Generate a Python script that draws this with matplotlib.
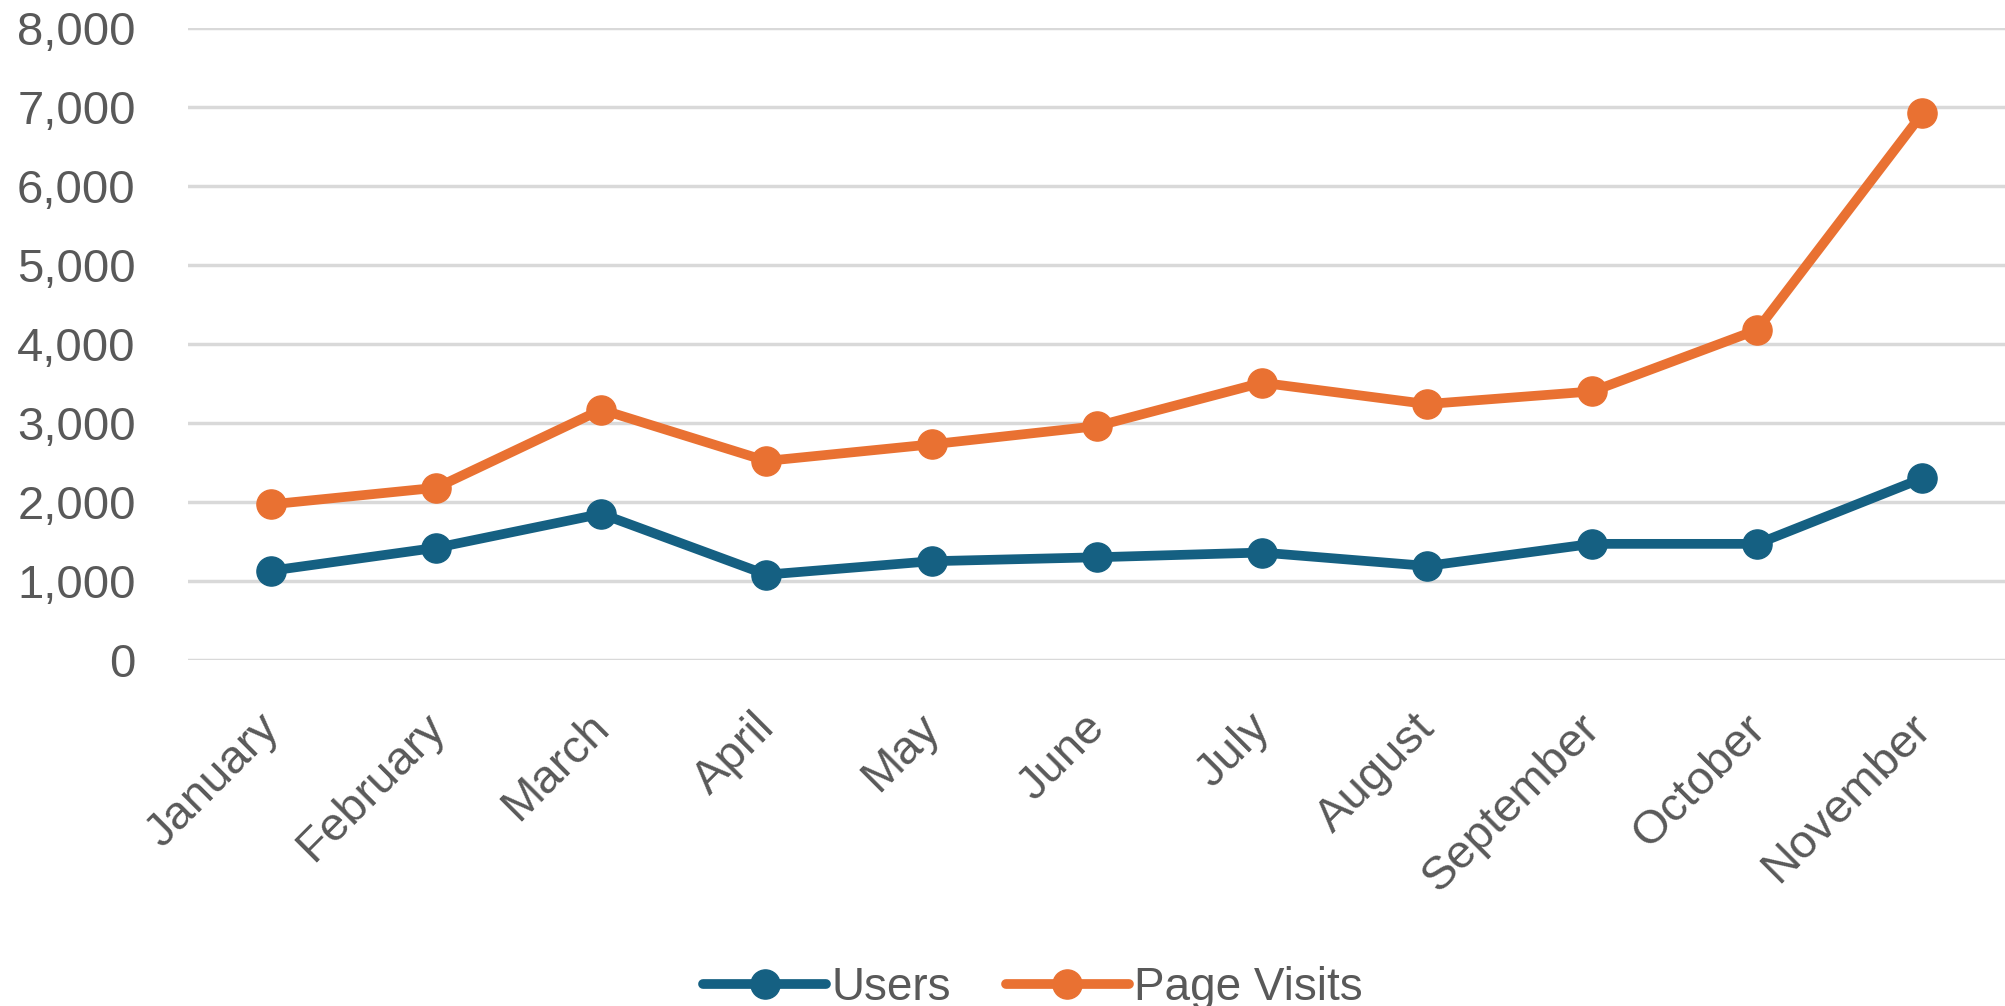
import matplotlib
matplotlib.use("Agg")
import matplotlib.pyplot as plt
from matplotlib.ticker import FuncFormatter
from matplotlib.transforms import ScaledTranslation

months = ["January", "February", "March", "April", "May", "June",
          "July", "August", "September", "October", "November"]
users = [1130, 1420, 1850, 1080, 1250, 1300, 1360, 1190, 1470, 1470, 2300]
page_visits = [1970, 2180, 3170, 2520, 2730, 2960, 3510, 3240, 3400, 4180, 6920]

text_grey = "#595959"
plt.rcParams["font.family"] = ["Liberation Sans", "DejaVu Sans"]

fig = plt.figure(figsize=(20.05, 10.06), dpi=100)
ax = fig.add_axes([0.094, 0.344, 0.906, 0.628])

x = range(len(months))
ax.plot(x, users, color="#156082", lw=7, marker="o", ms=21, label="Users",
        solid_capstyle="round", zorder=3)
ax.plot(x, page_visits, color="#E97132", lw=7, marker="o", ms=21, label="Page Visits",
        solid_capstyle="round", zorder=3)

ax.set_xlim(-0.5, len(months) - 0.5)
ax.set_ylim(0, 8000)
ax.set_yticks(range(0, 8001, 1000))
ax.yaxis.set_major_formatter(FuncFormatter(lambda v, p: f"{int(v):,}"))
ax.set_xticks(list(x))
ax.set_xticklabels(months, rotation=45, ha="right", rotation_mode="anchor")

ax.grid(axis="y", color="#d9d9d9", lw=2.5)
ax.set_axisbelow(True)
for s in ax.spines.values():
    s.set_visible(False)
ax.tick_params(axis="both", length=0, labelsize=34, labelcolor=text_grey)
ax.tick_params(axis="y", pad=38)
ax.tick_params(axis="x", pad=30)

# nudge the rotated month labels a bit left/down like the original
shift = ScaledTranslation(-0.14, -0.04, fig.dpi_scale_trans)
for lab in ax.get_xticklabels():
    lab.set_transform(lab.get_transform() + shift)

fig.legend(loc="center", bbox_to_anchor=(0.515, 0.018), ncol=2, frameon=False,
           fontsize=33, labelcolor=text_grey, handlelength=2.7, handletextpad=0.1,
           columnspacing=1.2)

fig.savefig("out.png", dpi=100)
